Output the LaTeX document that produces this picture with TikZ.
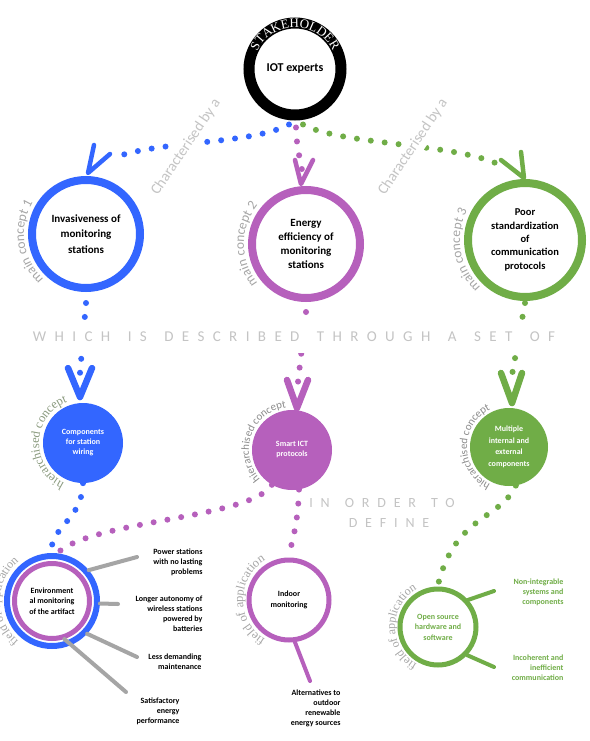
\documentclass[tikz,border=0pt]{standalone}
\usepackage{fontspec}
\setmainfont{Carlito}
\newfontfamily\serifface{Liberation Serif}
\newfontfamily\trackedface[LetterSpace=56]{Carlito}
\usetikzlibrary{decorations.text}

\definecolor{cblue}{HTML}{3366FF}
\definecolor{cpurple}{HTML}{B660BC}
\definecolor{cgreen}{HTML}{70AD47}
\definecolor{lightgrey}{HTML}{C4C4C4}
\definecolor{midgrey}{HTML}{A6A6A6}
\definecolor{darkgrey}{HTML}{8C8C8C}
\definecolor{olivegrey}{HTML}{8A9A7E}
\definecolor{spokegrey}{HTML}{A5A5A5}

% wide gap between tracked words
\newcommand\wgap{\hspace{17.5pt}}
\newcommand\ngap{\hspace{15pt}}

\begin{document}
\begin{tikzpicture}[x=1pt,y=1pt,
  dots/.style={line width=6pt, line cap=round, dash pattern=on 0pt off 14pt},
  vhead/.style={line width=4.5pt, line cap=round, line join=round},
  vbold/.style={line width=6.5pt, line cap=round, line join=round},
  mainring/.style={circle, line width=8pt, minimum size=108pt, inner sep=0pt, align=center},
  subdisc/.style={circle, minimum size=80pt, inner sep=0pt, align=center, text=white,
    font=\fontsize{8}{10}\selectfont\bfseries},
  fieldring/.style={circle, line width=5pt, inner sep=0pt, align=center,
    font=\fontsize{8}{10.5}\selectfont\bfseries},
  spoke/.style={line width=4pt, line cap=round},
  note/.style={align=right, anchor=east, font=\fontsize{8}{10}\selectfont\bfseries},
  relation/.style={text=lightgrey, font=\fontsize{15}{15}\selectfont, fill=white, inner sep=4pt},
  tracked/.style={text=lightgrey, font=\trackedface\fontsize{15}{15}\selectfont}
]
\fill[white] (0,0) rectangle (589,-741);
\useasboundingbox (0,0) rectangle (589,-741);

% ---------- stakeholder ----------
\node[circle, draw=black, line width=11pt, minimum size=92pt, inner sep=0pt,
  font=\fontsize{12}{14}\selectfont\bfseries] (stk) at (295,-69) {IOT experts};
\path[decorate, decoration={text along path, text align=center, text color=white,
  text={|\serifface\fontsize{13}{13}\selectfont|STAKEHOLDER}}]
  ([shift={(165:41.8)}]stk.center) arc[start angle=165, end angle=15, radius=41.8];

% ---------- main concepts ----------
\node[mainring, draw=cblue, font=\fontsize{11}{15.5}\selectfont\bfseries] (mc1) at (86,-234)
  {Invasiveness of\\monitoring\\stations};
\node[mainring, draw=cpurple, font=\fontsize{11}{14.3}\selectfont\bfseries] (mc2) at (306,-244)
  {Energy\\efficiency of\\monitoring\\stations};
\node[mainring, draw=cgreen, minimum size=114pt, font=\fontsize{10.5}{13.3}\selectfont\bfseries] (mc3) at (525,-240)
  {Poor\\standardization\\of\\communication\\protocols};

\foreach \c/\n/\a/\r in {mc1/1/188/62, mc2/2/180/62, mc3/3/190/65}{
  \path[decorate, decoration={text along path, text align=center, text color=midgrey,
    text={|\fontsize{13.5}{14}\selectfont|main concept \n}}]
    ([shift={(\a+65:\r)}]\c.center) arc[start angle=\a+65, end angle=\a-65, radius=\r];
}

% arrow heads onto the main concepts
\coordinate (t1) at (88,-173);
\coordinate (t2) at (301,-184);
\coordinate (t3) at (524,-178);

% connectors from the stakeholder
\draw[dots, cblue] ([shift={(-6,-4)}]stk.south) .. controls (250,-145) and (160,-140) .. (113,-158);
\draw[dots, cpurple] ([shift={(1,-7)}]stk.south) .. controls (297,-145) .. (302,-170);
\draw[dots, cgreen] ([shift={(8,-4)}]stk.south) .. controls (340,-145) and (455,-143) .. (500,-165);

\draw[vhead, cblue] (t1) ++(6,28) -- (t1) -- ++(22,19);
\draw[vhead, cpurple] (t2) ++(-6,24) -- (t2) -- ++(12,24);
\draw[vhead, cgreen] (t3) ++(-3,26) -- (t3) -- ++(-23,18);

\node[relation, rotate=56] (rel1) at (186,-147) {Characterised by a};
\node[relation, rotate=56] (rel2) at (413,-147) {Characterised by a};

% ---------- hierarchised concepts ----------
\node[subdisc, fill=cblue] (hc1) at (83,-443) {Components\\for station\\wiring};
\node[subdisc, fill=cpurple] (hc2) at (292,-450) {Smart ICT\\protocols};
\node[subdisc, fill=cgreen, minimum size=78pt, font=\fontsize{8}{11.6}\selectfont\bfseries] (hc3) at (509,-447)
  {Multiple\\internal and\\external\\components};

\coordinate (u1) at (80,-397);
\coordinate (u2) at (297,-408);
\coordinate (u3) at (512,-403);

\draw[dots, cblue] ([yshift=-11pt]mc1.south) -- (80,-373);
\draw[dots, cpurple] ([yshift=-10pt]mc2.south) -- (298,-382);
\draw[dots, cgreen] ([yshift=-2pt]mc3.south) -- (512,-375);

\draw[vbold, cblue] (u1) ++(-12,29) -- (u1) -- ++(12,29);
\draw[vbold, cpurple] (u2) ++(-10,28) -- (u2) -- ++(11,28);
\draw[vbold, cgreen] (u3) ++(-11,30) -- (u3) -- ++(10,30);

\node[tracked, fill=white, text height=13pt, text depth=4pt, inner xsep=2pt, inner ysep=7pt]
  (which) at (294,-337) {WHICH\wgap IS\wgap DESCRIBED\wgap THROUGH\wgap A\wgap SET\wgap OF};

\path[decorate, decoration={text along path, text align=center, text color=olivegrey,
  text={|\serifface\fontsize{12.5}{13}\selectfont|hierarchised concept}}]
  ([shift={(260:44)}]hc1.center) arc[start angle=260, end angle=96, radius=44];
\path[decorate, decoration={text along path, text align=center, text color=darkgrey,
  text={|\fontsize{11}{12}\selectfont|hierarchised concept}}]
  ([shift={(245:43)}]hc2.center) arc[start angle=245, end angle=75, radius=43];
\path[decorate, decoration={text along path, text align=center, text color=darkgrey,
  text={|\fontsize{11}{12}\selectfont|hierarchised concept}}]
  ([shift={(265:42)}]hc3.center) arc[start angle=265, end angle=95, radius=42];

\node[tracked, font=\trackedface\fontsize{14}{14}\selectfont] (order) at (382,-503) {IN\ngap ORDER\ngap TO};
\node[tracked, font=\trackedface\fontsize{14}{14}\selectfont] (define) at (389,-523) {DEFINE};

% ---------- fields of application ----------
\node[circle, draw=cblue, line width=6pt, minimum size=90pt, inner sep=0pt] (fa1) at (52,-601) {};
\node[fieldring, draw=cpurple, minimum size=75pt] (fa1in) at (fa1.center)
  {Environment\\al monitoring\\of the artifact};
\node[fieldring, draw=cpurple, minimum size=80pt] (fa2) at (289,-600) {Indoor\\monitoring};
\node[fieldring, draw=cgreen, minimum size=76pt, text=cgreen] (fa3) at (438,-627)
  {Open source\\hardware and\\software};

\draw[dots, cblue] (hc1.south) .. controls (82,-520) and (52,-525) .. (51,-552);
\draw[dots, cpurple] (hc2.240) .. controls (250,-520) and (80,-520) .. (54,-557);
\draw[dots, cpurple] (hc2.-80) .. controls (298,-525) and (292,-540) .. (289,-556);
\draw[dots, cgreen] (hc3.-80) .. controls (500,-520) and (455,-515) .. (438,-585);

\foreach \c/\r/\f in {fa1/52/12, fa2/46/12.5, fa3/43/12}{
  \path[decorate, decoration={text along path, text align=center, text color=midgrey,
    text={|\serifface\fontsize{\f}{\f}\selectfont|field of application}}]
    ([shift={(250:\r)}]\c.center) arc[start angle=250, end angle=110, radius=\r];
}

% outcomes
\node[note] (o1) at (206,-562) {Power stations\\with no lasting\\problems};
\node[note] (o2) at (206,-614) {Longer autonomy of\\wireless stations\\powered by\\batteries};
\node[note] (o3) at (205,-662) {Less demanding\\maintenance};
\node[note] (o4) at (183,-711) {Satisfactory\\energy\\performance};
\node[note] (o5) at (344,-708) {Alternatives to\\outdoor\\renewable\\energy sources};
\node[note, text=cgreen] (o6) at (567,-592) {Non-integrable\\systems and\\components};
\node[note, text=cgreen] (o7) at (567,-668) {Incoherent and\\inefficient\\communication};

\coordinate (e1) at (137,-557);
\coordinate (e2) at (118,-604);
\coordinate (e3) at (137,-657);
\coordinate (e4) at (126,-692);
\coordinate (e5) at (310,-681);
\coordinate (e6) at (494,-591);
\coordinate (e7) at (494,-667);

\draw[spoke, spokegrey] (fa1.40) -- (e1);
\draw[spoke, spokegrey] (fa1.-3) -- (e2);
\draw[spoke, spokegrey] (fa1.-43) -- (e3);
\draw[spoke, spokegrey] (fa1in.-72) -- (e4);
\draw[spoke, cpurple] (fa2.-82) -- (e5);
\draw[spoke, cgreen] (fa3.42) -- (e6);
\draw[spoke, cgreen] (fa3.-44) -- (e7);
\end{tikzpicture}
\end{document}
